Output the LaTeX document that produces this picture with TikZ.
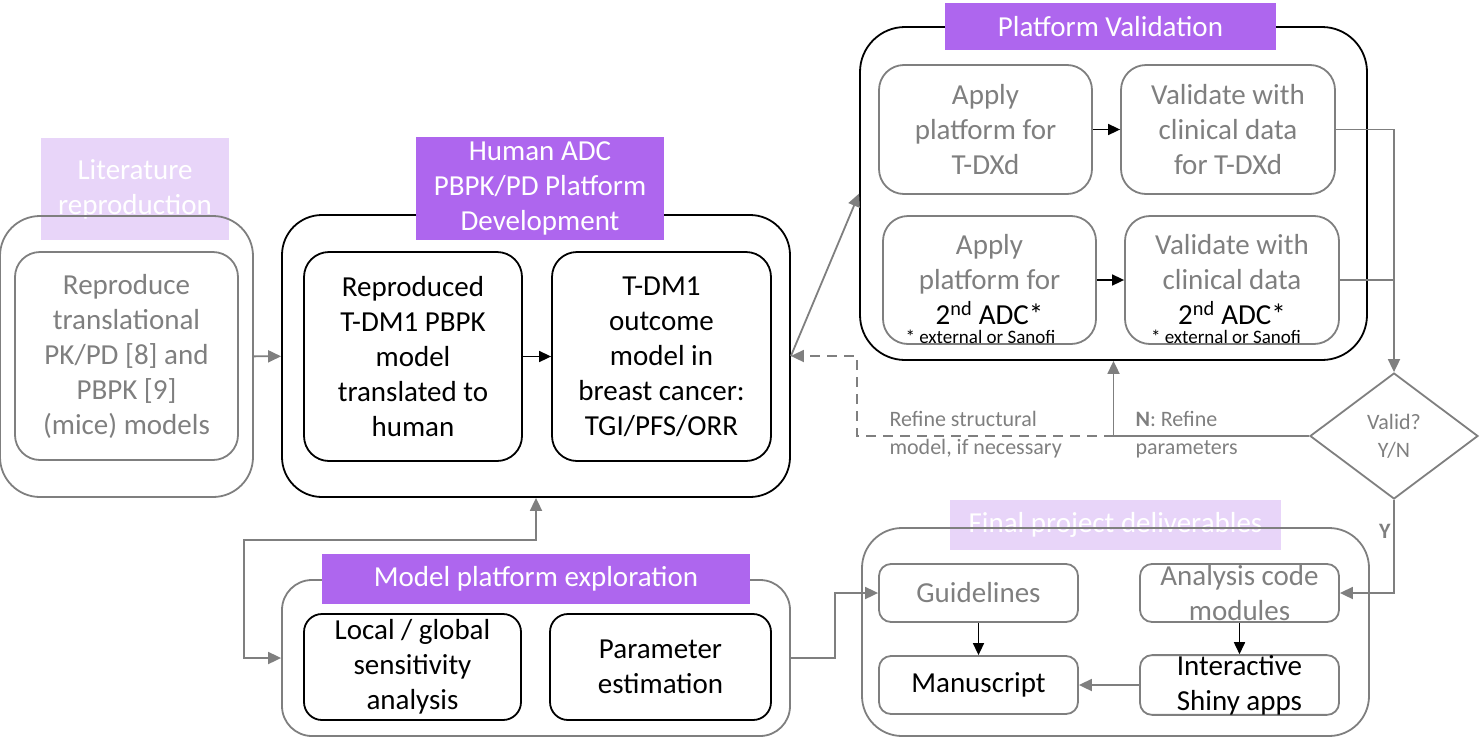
\documentclass[tikz,border=0pt]{standalone}
\usepackage{fontspec}
\setmainfont{Carlito}
\usetikzlibrary{shapes.geometric,arrows.meta}

\definecolor{gry}{HTML}{7F7F7F}
\definecolor{purp}{HTML}{AE66EE}
\definecolor{lpurp}{HTML}{E8D5F9}

\tikzset{
  big/.style={font=\fontsize{29}{35}\selectfont},
  small/.style={font=\fontsize{22}{28}\selectfont},
  note/.style={font=\fontsize{19}{19}\selectfont},
  gbox/.style={draw=gry, line width=1.8pt, rounded corners=25pt, align=center, inner sep=0pt, big},
  kbox/.style={draw=black, line width=1.8pt, rounded corners=25pt, align=center, inner sep=0pt, big},
  tag/.style={fill=purp, text=white, align=center, inner sep=0pt, big},
  ltag/.style={fill=lpurp, text=white, align=center, inner sep=0pt, big},
  garr/.style={draw=gry, line width=1.8pt, -{Triangle[length=13pt,width=12pt]}},
  karr/.style={draw=black, line width=1.6pt, -{Triangle[length=12pt,width=11pt]}},
}

\begin{document}
\begin{tikzpicture}[x=1pt,y=-1pt]
  \useasboundingbox (0,0) rectangle (1480,739);

  % pale tags sit under their frames
  \node[ltag, minimum width=188pt, minimum height=102pt] (litlab) at (135,189) {Literature\\reproduction};
  \node[ltag, minimum width=331pt, minimum height=50pt] (finlab) at (1115.5,525) {Final project deliverables};

  % literature reproduction
  \node[gbox, rounded corners=40pt, minimum width=253pt, minimum height=281pt] (litout) at (126.5,356.5) {};
  \node[gbox, text=gry, minimum width=223pt, minimum height=208pt] (litin) at (126.5,356)
    {Reproduce\\translational\\PK/PD [8] and\\PBPK [9]\\(mice) models};

  % human platform
  \node[kbox, rounded corners=40pt, minimum width=508pt, minimum height=282pt] (humout) at (536,356) {};
  \node[tag, minimum width=248pt, minimum height=103pt] (humlab) at (540,188.5) {Human ADC\\PBPK/PD Platform\\Development};
  \node[kbox, minimum width=218pt, minimum height=209pt] (humrep) at (413,356.5)
    {Reproduced\\T-DM1 PBPK\\model\\translated to\\human};
  \node[kbox, minimum width=219pt, minimum height=209pt] (humtgi) at (661.5,356.5)
    {T-DM1\\outcome\\model in\\breast cancer:\\TGI/PFS/ORR};

  % platform validation
  \node[kbox, rounded corners=45pt, minimum width=507pt, minimum height=333pt] (valout) at (1113.5,193.5) {};
  \node[tag, minimum width=331pt, minimum height=47pt] (vallab) at (1110.5,26.5) {Platform Validation};
  \node[gbox, text=gry, minimum width=213pt, minimum height=129pt] (app1) at (985.5,129.5) {Apply\\platform for\\T-DXd};
  \node[gbox, text=gry, minimum width=214pt, minimum height=129pt] (vld1) at (1228,129.5) {Validate with\\clinical data\\for T-DXd};
  \node[gbox, text=gry, minimum width=213pt, minimum height=128pt,
    label={[note, anchor=south, inner sep=0pt, xshift=-9pt, yshift=1pt]south:* external or Sanofi}] (app2) at (989.5,280)
    {Apply\\platform for\\\textcolor{black}{2\textsuperscript{nd} ADC*}};
  \node[gbox, text=gry, minimum width=214pt, minimum height=128pt,
    label={[note, anchor=south, inner sep=0pt, xshift=-6pt, yshift=1pt]south:* external or Sanofi}] (vld2) at (1232,280)
    {Validate with\\clinical data\\\textcolor{black}{2\textsuperscript{nd} ADC*}};
  \node[diamond, draw=gry, line width=1.8pt, text=gry, align=center, inner sep=0pt,
    minimum width=168pt, minimum height=126pt, font=\fontsize{22}{28}\selectfont] (valid) at (1394,436) {Valid?\\Y/N};

  % final deliverables
  \node[gbox, rounded corners=40pt, minimum width=507pt, minimum height=208pt] (finout) at (1115.5,632) {};
  \node[gbox, rounded corners=12pt, text=gry, minimum width=199pt, minimum height=58pt] (guide) at (978.5,593) {Guidelines};
  \node[gbox, rounded corners=12pt, minimum width=199pt, minimum height=58pt] (manu) at (978.5,685) {Manuscript};
  \node[gbox, rounded corners=12pt, text=gry, minimum width=199pt, minimum height=58pt] (anal) at (1239.5,593) {Analysis code\\modules};
  \node[gbox, rounded corners=12pt, minimum width=199pt, minimum height=58pt] (shiny) at (1239.5,685) {Interactive\\Shiny apps};

  % model platform exploration
  \node[gbox, rounded corners=30pt, minimum width=508pt, minimum height=156pt] (mpeout) at (536,658) {};
  \node[tag, minimum width=428pt, minimum height=50pt] (mpelab) at (536,579) {Model platform exploration};
  \node[kbox, rounded corners=18pt, minimum width=217pt, minimum height=106pt] (sens) at (412.5,667) {Local / global\\sensitivity\\analysis};
  \node[kbox, rounded corners=18pt, minimum width=221pt, minimum height=106pt] (pest) at (660.5,667) {Parameter\\estimation};

  % connectors
  \draw[garr] (litout) -- (humout);
  \draw[karr] (humrep) -- (humtgi);
  \draw[garr] (humout.east) -- (valout.west);
  \draw[karr] (app1) -- (vld1);
  \draw[karr] (app2) -- (vld2);
  \draw[gry, line width=1.8pt] (vld2.east) -- (vld2.east -| valid.north);
  \draw[garr] (vld1.east) -| (valid.north);
  \draw[garr] (valid.west) -| (valout.south);
  \coordinate (nref) at (valout.south |- valid.west);
  \coordinate (dk) at (857,436);
  \draw[garr, dash pattern=on 10pt off 7pt] (nref) -- (dk) |- (humout.east);
  \node[small, text=gry, align=left, anchor=west] (refs) at (886,435) {Refine structural\\model, if necessary};
  \node[small, text=gry, align=left, anchor=west] (refp) at (1132,435) {\textbf{N}: Refine\\parameters};
  \draw[garr] (valid.south) |- (anal.east);
  \node[small, text=gry] (ylab) at (1385,531) {\textbf{Y}};
  \draw[karr] (guide) -- (manu);
  \draw[karr] (anal) -- (shiny);
  \draw[garr] (shiny) -- (manu);
  \draw[garr] (mpeout.east) -- ++(44,0) |- (guide.west);
  \coordinate (lp) at (244,540);
  \draw[garr, {Triangle[length=13pt,width=12pt]}-{Triangle[length=13pt,width=12pt]}] (humout.south) |- (lp) |- (mpeout.west);
\end{tikzpicture}
\end{document}
